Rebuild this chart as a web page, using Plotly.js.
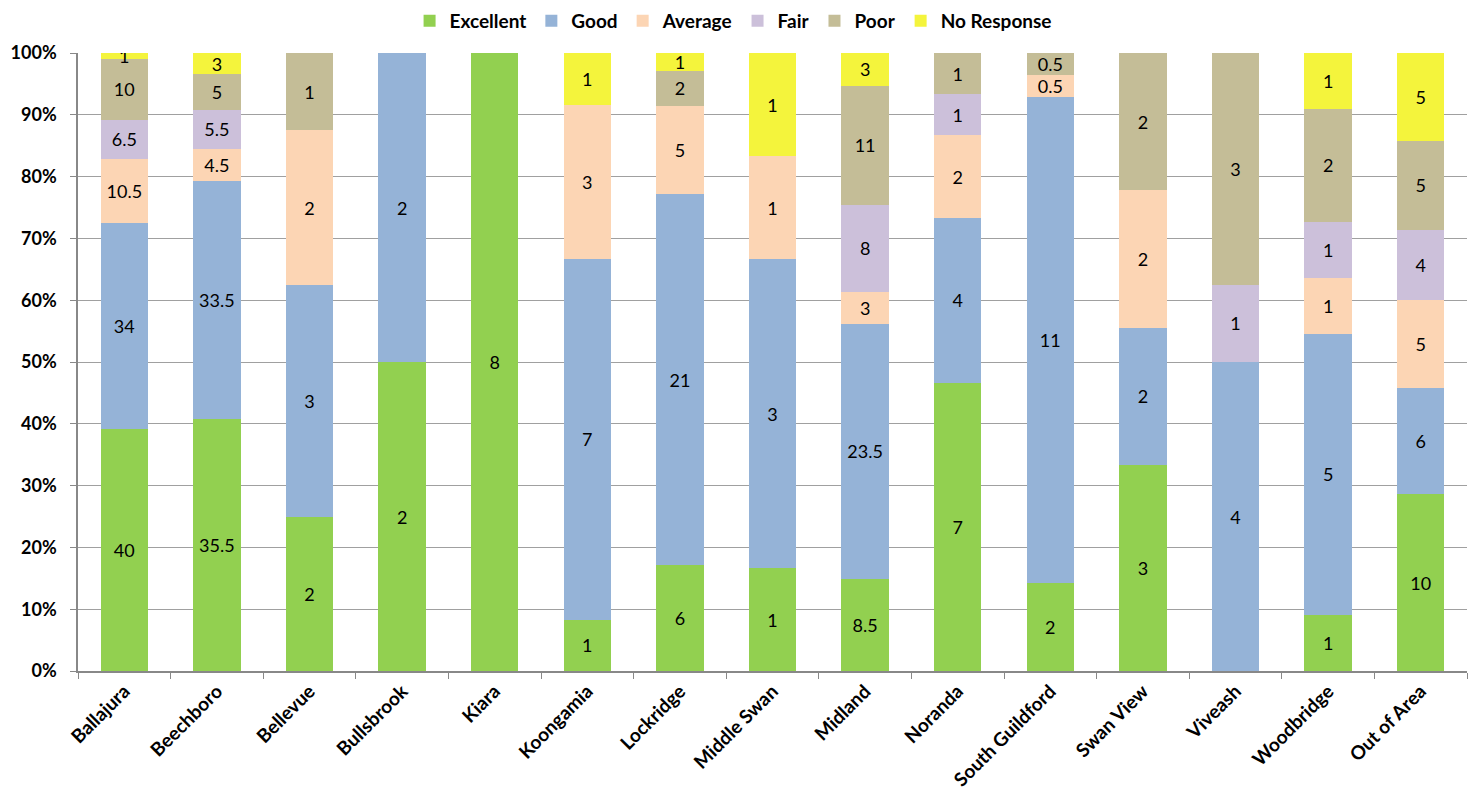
<!DOCTYPE html>
<html>
<head>
<meta charset="utf-8">
<script src="https://cdn.plot.ly/plotly-3.0.1.min.js"></script>
<style>html,body{margin:0;padding:0;background:#fff;}#chart{width:1475px;height:803px;}</style>
</head>
<body>
<div id="chart"></div>
<script>
var categories = ["Ballajura","Beechboro","Bellevue","Bullsbrook","Kiara","Koongamia","Lockridge","Middle Swan","Midland","Noranda","South Guildford","Swan View","Viveash","Woodbridge","Out of Area"];
var excellent  = [40, 35.5, 2, 2, 8, 1, 6, 1, 8.5, 7, 2, 3, 0, 1, 10];
var good       = [34, 33.5, 3, 2, 0, 7, 21, 3, 23.5, 4, 11, 2, 4, 5, 6];
var average    = [10.5, 4.5, 2, 0, 0, 3, 5, 1, 3, 2, 0.5, 2, 0, 1, 5];
var fair       = [6.5, 5.5, 0, 0, 0, 0, 0, 0, 8, 1, 0, 0, 1, 1, 4];
var poor       = [10, 5, 1, 0, 0, 0, 2, 0, 11, 1, 0.5, 2, 3, 2, 5];
var noResponse = [1, 3, 0, 0, 0, 1, 1, 1, 3, 0, 0, 0, 0, 1, 5];

var seriesNames = ["Excellent","Good","Average","Fair","Poor","No Response"];
var seriesValues = [excellent, good, average, fair, poor, noResponse];
var seriesColors = ["#92D050","#95B3D7","#FCD5B4","#CCC0DA","#C4BD97","#F4F43C"];

var FONT = 'Lato, "Liberation Sans", sans-serif';

var traces = seriesNames.map(function(name, i){
  return {
    type: 'bar',
    name: name,
    x: categories,
    y: seriesValues[i],
    text: seriesValues[i].map(function(v){ return v === 0 ? '' : String(v); }),
    textposition: 'inside',
    insidetextanchor: 'middle',
    textangle: 0,
    constraintext: 'none',
    textfont: {family: FONT, size: 18, color: '#000'},
    marker: {color: seriesColors[i], line: {width: 0}},
    hoverinfo: 'x+y+name'
  };
});

var layout = {
  barmode: 'stack',
  barnorm: 'percent',
  bargap: 0.49,
  width: 1475,
  height: 803,
  margin: {l: 78, r: 8, t: 53, b: 132},
  paper_bgcolor: '#fff',
  plot_bgcolor: '#fff',
  font: {family: FONT, color: '#000'},
  uniformtext: {mode: 'show', minsize: 18},
  showlegend: true,
  legend: {
    orientation: 'h',
    xref: 'container',
    x: 0.497, xanchor: 'center',
    yref: 'container',
    y: 0.974, yanchor: 'middle',
    font: {family: FONT, size: 19, weight: 'bold', color: '#000'},
    itemwidth: 30,
    tracegroupgap: 0,
    traceorder: 'normal'
  },
  xaxis: {
    type: 'category',
    automargin: false,
    tickangle: -45,
    tickfont: {family: FONT, size: 19, weight: 'bold', color: '#000'},
    showline: true,
    linecolor: '#888',
    linewidth: 1.5,
    ticks: 'outside',
    tickson: 'boundaries',
    ticklen: 6,
    tickcolor: '#888',
    showgrid: false
  },
  yaxis: {
    automargin: false,
    range: [0, 100],
    dtick: 10,
    ticksuffix: '%',
    tickfont: {family: FONT, size: 18, weight: 'bold', color: '#000'},
    ticklabelstandoff: 10,
    showline: true,
    linecolor: '#888',
    linewidth: 1.5,
    ticks: 'outside',
    ticklen: 6,
    tickcolor: '#888',
    showgrid: true,
    gridcolor: '#A0A0A0',
    gridwidth: 1,
    zeroline: false
  }
};

Plotly.newPlot('chart', traces, layout, {displayModeBar: false, responsive: false});
</script>
</body>
</html>
